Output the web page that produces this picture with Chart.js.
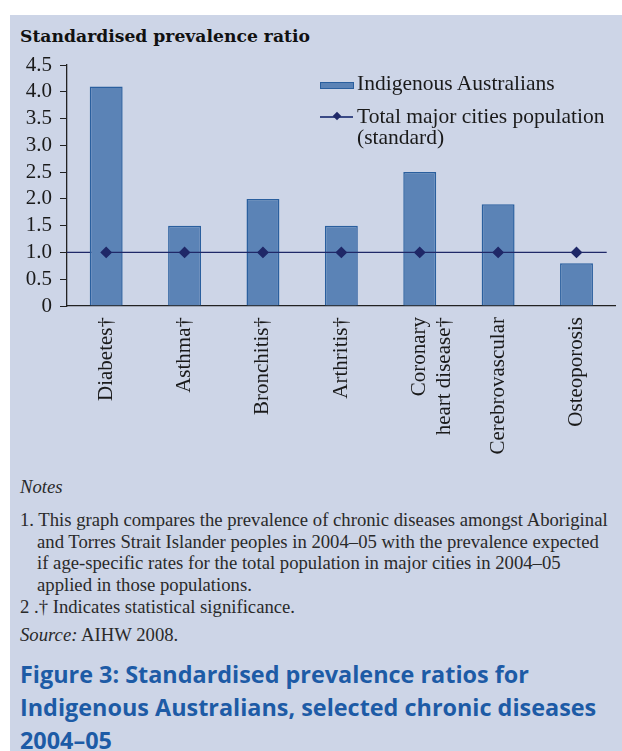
<!DOCTYPE html>
<html>
<head>
<meta charset="utf-8">
<script src="https://cdn.jsdelivr.net/npm/chart.js@4"></script>
<style>
  body { margin: 0; background: #fff; width: 622px; height: 751px; overflow: hidden; position: relative; }
  #panel { position: absolute; left: 10px; top: 15px; width: 612px; height: 736px; background: #cdd5e7; }
  .abs { position: absolute; white-space: nowrap; }
  #ytitle { left: 20px; top: 26px; font: bold 17.2px "DejaVu Serif", serif; color: #111; }
  #chartBox { position: absolute; left: 0; top: 40px; width: 622px; height: 430px; }
  .legtext { font: 21.5px "Liberation Serif", serif; color: #1a1a1a; line-height: 21px; }
  .notes { left: 20px; font: 18.7px "Liberation Serif", serif; color: #2a2a2a; line-height: 21.5px; }
  .hang { padding-left: 17px; text-indent: -17px; }
  #caption { left: 20px; top: 658px; font: bold 23.4px "Open Sans", sans-serif; color: #1d5ba6; line-height: 33px; }
</style>
</head>
<body>
<div id="panel"></div>
<div id="ytitle" class="abs">Standardised prevalence ratio</div>
<div id="chartBox"><canvas id="chart"></canvas></div>

<!-- legend -->
<div class="abs" style="left:320px; top:82px; width:32px; height:5px; background:#5b83b6; border:1px solid #2a5f9e;"></div>
<div class="abs legtext" style="left:357px; top:73px;">Indigenous Australians</div>
<div class="abs" style="left:320px; top:116px; width:33px; height:1.5px; background:#3a4a86;"></div>
<div class="abs" style="left:334px; top:113px; width:6px; height:6px; background:#1f2868; transform:rotate(45deg);"></div>
<div class="abs legtext" style="left:357px; top:106px;">Total major cities population<br>(standard)</div>

<div class="abs notes" style="top:476px;"><i>Notes</i></div>
<div class="abs notes hang" style="top:509px;">1. This graph compares the prevalence of chronic diseases amongst Aboriginal<br>and Torres Strait Islander peoples in 2004–05 with the prevalence expected<br>if age-specific rates for the total population in major cities in 2004–05<br>applied in those populations.</div>
<div class="abs notes" style="top:596px;">2 .† Indicates statistical significance.</div>
<div class="abs notes" style="top:624px;"><i>Source:</i> AIHW 2008.</div>
<div id="caption" class="abs">Figure 3: Standardised prevalence ratios for<br>Indigenous Australians, selected chronic diseases<br>2004–05</div>

<script>
const categories = ['Diabetes†', 'Asthma†', 'Bronchitis†', 'Arthritis†', ['Coronary', 'heart disease†'], 'Cerebrovascular', 'Osteoporosis'];
const indigenousRatios = [4.1, 1.5, 2.0, 1.5, 2.5, 1.9, 0.8];
const standardRatios = [1, 1, 1, 1, 1, 1, 1];
const yTicks = [0, 0.5, 1, 1.5, 2, 2.5, 3, 3.5, 4, 4.5];

const lineColor = '#1f2868';

// stretch the standard line out to the edges of the plot
const extendLine = {
    id: 'extendLine',
    beforeDatasetsDraw(chart) {
        const pts = chart.getDatasetMeta(1).data;
        if (!pts.length) return;
        const ctx = chart.ctx;
        const area = chart.chartArea;
        const last = pts[pts.length - 1];
        ctx.save();
        ctx.strokeStyle = lineColor;
        ctx.lineWidth = 1.3;
        ctx.beginPath();
        ctx.moveTo(area.left, pts[0].y);
        ctx.lineTo(pts[0].x, pts[0].y);
        ctx.moveTo(last.x, last.y);
        ctx.lineTo(area.right - 9, last.y);
        ctx.stroke();
        ctx.restore();
    }
};

new Chart(document.getElementById('chart'), {
    data: {
        labels: categories,
        datasets: [
            {
                type: 'bar',
                label: 'Indigenous Australians',
                data: indigenousRatios,
                backgroundColor: '#5b83b6',
                borderColor: '#2a5f9e',
                borderWidth: 1.5,
                barPercentage: 0.42,
                categoryPercentage: 1,
                order: 2
            },
            {
                type: 'line',
                label: 'Total major cities population (standard)',
                data: standardRatios,
                borderColor: lineColor,
                borderWidth: 1.3,
                pointStyle: 'rectRot',
                pointRadius: 5,
                pointBackgroundColor: lineColor,
                pointBorderColor: lineColor,
                order: 1
            }
        ]
    },
    options: {
        responsive: true,
        maintainAspectRatio: false,
        animation: false,
        layout: { padding: { top: 25, right: 0, left: 0, bottom: 0 } },
        plugins: {
            legend: { display: false },
            tooltip: { enabled: false }
        },
        scales: {
            x: {
                grid: { display: false },
                border: { color: '#222', width: 1.3 },
                ticks: {
                    color: '#1a1a1a',
                    font: { family: 'Liberation Serif', size: 21 },
                    maxRotation: 90,
                    minRotation: 90,
                    padding: 3,
                    autoSkip: false
                },
                afterFit(scale) { scale.height = 164; }
            },
            y: {
                min: 0,
                max: 4.5,
                afterBuildTicks(scale) { scale.ticks = yTicks.map(v => ({ value: v })); },
                grid: { drawOnChartArea: false, drawTicks: true, tickLength: 7, color: '#222' },
                border: { color: '#222', width: 1.3 },
                ticks: {
                    autoSkip: false,
                    color: '#1a1a1a',
                    font: { family: 'Liberation Serif', size: 21 },
                    padding: 8,
                    callback: v => v === 0 ? '0' : v.toFixed(1)
                },
                afterFit(scale) { scale.width = 67; }
            }
        }
    },
    plugins: [extendLine]
});
</script>
</body>
</html>
